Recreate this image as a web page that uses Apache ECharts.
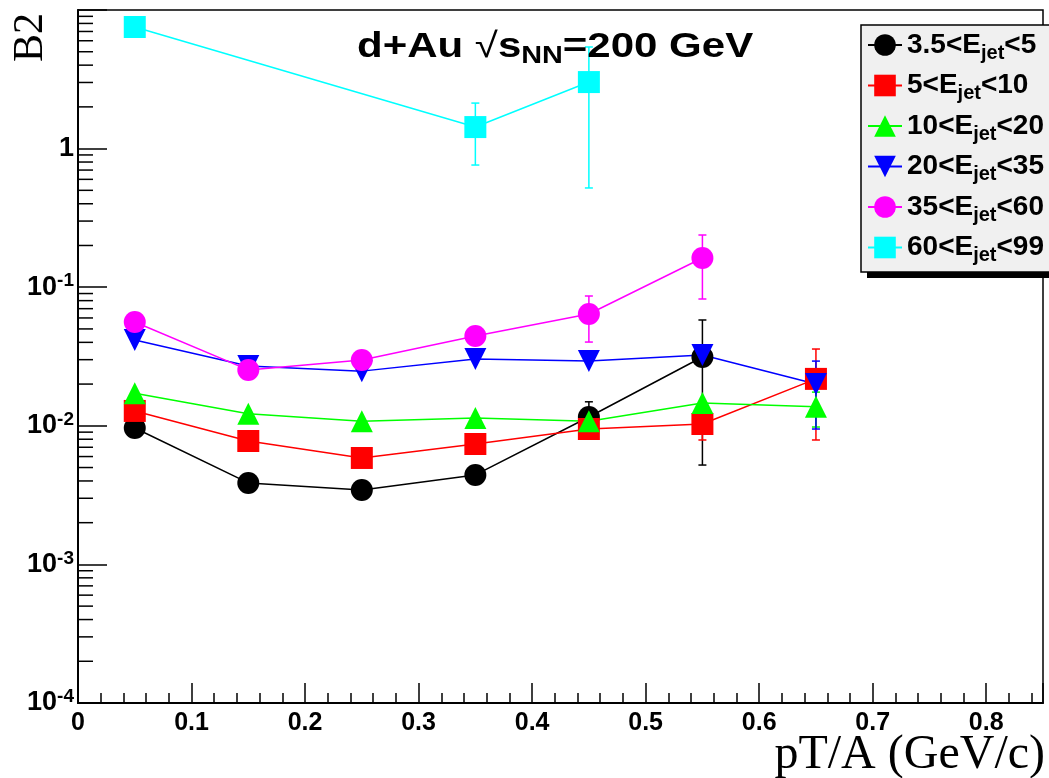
<!DOCTYPE html>
<html><head><meta charset="utf-8">
<script src="https://cdn.jsdelivr.net/npm/echarts@6/dist/echarts.min.js"></script>
<style>html,body{margin:0;padding:0;background:#fff}#c{width:1049px;height:778px}</style>
</head><body><div id="c"></div>
<script>
// ---- data ----
const xBins = [0.05, 0.15, 0.25, 0.35, 0.45, 0.55, 0.65];
const xCyan = [0.05, 0.35, 0.45];
const legendLow = ['3.5', '5', '10', '20', '35', '60'];
const legendHigh = ['5', '10', '20', '35', '60', '99'];
const colors = ['#000000', '#ff0000', '#00ff00', '#0000ff', '#ff00ff', '#00ffff'];
const symbols = ['circle', 'rect', 'triangle', 'triangle', 'circle', 'rect'];
const rotations = [0, 0, 0, 180, 0, 0];

const b2E3p5to5 = [0.00964, 0.00387, 0.00344, 0.00442, 0.01157, 0.03136];
const b2E5to10 = [0.0128, 0.00777, 0.00586, 0.00739, 0.00948, 0.0103, 0.0218];
const b2E10to20 = [0.0172, 0.0122, 0.0108, 0.0114, 0.0108, 0.0146, 0.0137];
const b2E20to35 = [0.0416, 0.0270, 0.0248, 0.0303, 0.0293, 0.0324, 0.0200];
const b2E35to60 = [0.0561, 0.0253, 0.0298, 0.0444, 0.0641, 0.1624];
const b2E60to99 = [7.54, 1.43, 3.02];

// error bars: [x, low, high]
const errE3p5to5 = [[0.45, 0.0085, 0.0149], [0.55, 0.00521, 0.058]];
const errE5to10 = [[0.55, 0.0079, 0.0125], [0.65, 0.0079, 0.0358]];
const errE10to20 = [[0.65, 0.0098, 0.0175]];
const errE20to35 = [[0.65, 0.00948, 0.0293]];
const errE35to60 = [[0.45, 0.0402, 0.0864], [0.55, 0.0822, 0.238]];
const errE60to99 = [[0.35, 0.761, 2.13], [0.45, 0.52, 5.41]];

const yMinorValues = [];
for (let d = -4; d <= 0; d++) for (let m = 2; m <= 9; m++) yMinorValues.push(m * Math.pow(10, d));

// ---- build ----
const values = [b2E3p5to5, b2E5to10, b2E10to20, b2E20to35, b2E35to60, b2E60to99];
const errs = [errE3p5to5, errE5to10, errE10to20, errE20to35, errE35to60, errE60to99];
const names = legendLow.map((l, i) => l + '<Ejet<' + legendHigh[i]);
const FONT = 'Liberation Sans';

const series = [];
series.push({
  type: 'custom', silent: true, clip: false, z: 1,
  data: yMinorValues.map(v => [0, v]),
  renderItem: function (params, api) {
    const p = api.coord([0, api.value(1)]);
    return { type: 'line', shape: { x1: p[0], y1: p[1], x2: p[0] + 15, y2: p[1] },
      style: { stroke: '#000', lineWidth: 1.5 } };
  }
});
values.forEach((vals, i) => {
  const xs = (i === 5) ? xCyan : xBins;
  series.push({
    type: 'custom', silent: true, z: 2,
    data: errs[i],
    renderItem: function (params, api) {
      const x = api.value(0);
      const lo = api.coord([x, api.value(1)]);
      const hi = api.coord([x, api.value(2)]);
      const st = { stroke: colors[i], lineWidth: 1.5 };
      return { type: 'group', children: [
        { type: 'line', shape: { x1: lo[0], y1: lo[1], x2: hi[0], y2: hi[1] }, style: st },
        { type: 'line', shape: { x1: lo[0] - 4, y1: lo[1], x2: lo[0] + 4, y2: lo[1] }, style: st },
        { type: 'line', shape: { x1: hi[0] - 4, y1: hi[1], x2: hi[0] + 4, y2: hi[1] }, style: st }
      ] };
    }
  });
  series.push({
    type: 'line', name: names[i], z: 2,
    data: xs.map((x, k) => [x, vals[k]]),
    symbol: symbols[i], symbolRotate: rotations[i], symbolSize: 22,
    showAllSymbol: true,
    lineStyle: { color: colors[i], width: 1.5 },
    itemStyle: { color: colors[i], opacity: 1 },
    emphasis: { disabled: true },
    animation: false
  });
});

const chart = echarts.init(document.getElementById('c'), null, { renderer: 'canvas' });
chart.setOption({
  animation: false,
  backgroundColor: '#ffffff',
  grid: { left: 78, top: 10, right: 6, bottom: 75, show: true, borderColor: '#000', borderWidth: 1.5,
          containLabel: false, outerBoundsMode: 'none' },
  legend: {
    orient: 'vertical', left: 861, top: 25, z: 20,
    data: names,
    itemWidth: 34, itemHeight: 27, itemGap: 8.5,
    padding: [6, 12, 8, 6],
    backgroundColor: 'transparent', borderWidth: 0,
    selectedMode: false,
    formatter: function (name) {
      const i = names.indexOf(name);
      return '{a|' + legendLow[i] + '<E}{s|jet}{a|<' + legendHigh[i] + '}';
    },
    textStyle: { rich: {
      a: { fontFamily: FONT, fontWeight: 'bold', fontSize: 28, color: '#000' },
      s: { fontFamily: FONT, fontWeight: 'bold', fontSize: 20, color: '#000', padding: [16, 0, 0, 0] }
    } }
  },
  xAxis: {
    type: 'value', min: 0, max: 0.85, interval: 0.1,
    axisLine: { show: true, lineStyle: { color: '#000', width: 2 } },
    axisTick: { show: true, inside: true, length: 20, lineStyle: { color: '#000', width: 1.5 } },
    minorTick: { show: true, splitNumber: 5, length: 10, lineStyle: { color: '#000', width: 1.5 } },
    splitLine: { show: false },
    axisLabel: {
      margin: 8, fontFamily: FONT, fontWeight: 'bold', fontSize: 25, color: '#000',
      showMaxLabel: false,
      formatter: v => (Math.abs(v) < 1e-9 ? '0' : v.toFixed(1))
    }
  },
  yAxis: {
    type: 'log', logBase: 10, min: 0.0001, max: 10,
    axisLine: { show: true, lineStyle: { color: '#000', width: 2 } },
    axisTick: { show: true, inside: true, length: 29, lineStyle: { color: '#000', width: 1.5 } },
    splitLine: { show: false },
    axisLabel: {
      margin: 4,
      formatter: function (v) {
        const e = Math.round(Math.log10(v));
        if (e === 1) return '';
        if (e === 0) return '{b|1}';
        return '{b|10}{p|' + e + '}';
      },
      rich: {
        b: { fontFamily: FONT, fontWeight: 'bold', fontSize: 27, color: '#000' },
        p: { fontFamily: FONT, fontWeight: 'bold', fontSize: 19, color: '#000', padding: [0, 0, 12, 0] }
      }
    }
  },
  graphic: [
    { type: 'rect', z: 15, silent: true,
      shape: { x: 867, y: 31, width: 200, height: 247 },
      style: { fill: '#000' } },
    { type: 'rect', z: 16, silent: true,
      shape: { x: 861, y: 25, width: 200, height: 247 },
      style: { fill: '#f0f0f0', stroke: '#000', lineWidth: 1.5 } },
    { type: 'text', x: 357, y: 26, scaleX: 1.2, scaleY: 1, z: 10,
      style: {
        text: '{a|d+Au }{r|√}{a|s}{s|NN}{a|=200 GeV}',
        rich: {
          a: { fontFamily: FONT, fontWeight: 'bold', fontSize: 35, fill: '#000' },
          r: { fontFamily: FONT, fontWeight: 'normal', fontSize: 35, fill: '#000' },
          s: { fontFamily: FONT, fontWeight: 'bold', fontSize: 24, fill: '#000', padding: [18, 0, 0, 0] }
        }
      } },
    { type: 'text', left: 10, top: 13, rotation: Math.PI / 2,
      style: { text: 'B2', font: '42px "Liberation Serif"', fill: '#000' } },
    { type: 'text', right: 4, top: 731,
      style: { text: 'pT/A (GeV/c)', font: '48px "Liberation Serif"', fill: '#000' } }
  ],
  series: series
});
</script></body></html>
